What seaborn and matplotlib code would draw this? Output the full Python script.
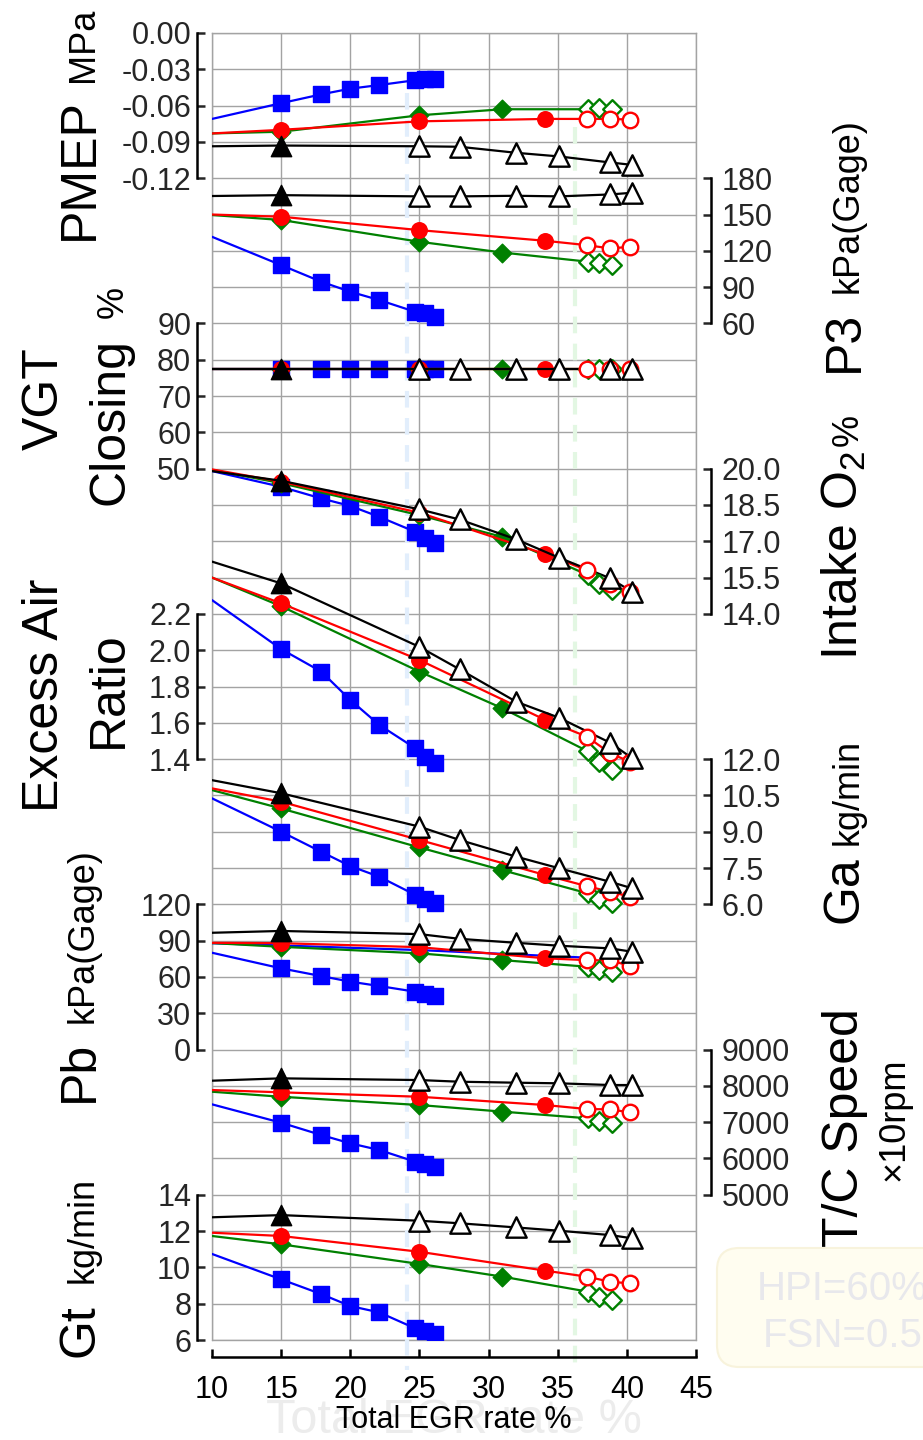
import matplotlib
matplotlib.use("Agg")
import matplotlib.pyplot as plt
import matplotlib.transforms as mtransforms
from matplotlib.patches import FancyBboxPatch
import seaborn as sns

sns.set_style("white")
plt.rcParams["font.family"] = ["Liberation Sans", "DejaVu Sans"]
plt.rcParams["mathtext.fontset"] = "custom"
plt.rcParams["mathtext.rm"] = "Liberation Sans"
plt.rcParams["mathtext.it"] = "Liberation Sans:italic"
plt.rcParams["mathtext.bf"] = "Liberation Sans:bold"
plt.rcParams["axes.unicode_minus"] = False

# ---------------------------------------------------------------- data
# Total EGR rate % of each operating series (first entry: line entry at frame edge)
egr_tri = [10, 15, 25, 27.9, 32, 35.1, 38.8, 40.4]
egr_circ = [10, 15, 25, 34.1, 37.1, 38.8, 40.2]
egr_dia = [10, 15, 25, 31, 37.2, 38.0, 38.9]
egr_sq = [10, 15, 17.9, 20, 22.1, 24.7, 25.4, 26.1]

# marker style per point: "" = no marker, "f" = filled, "o" = open
fill_tri = ["", "f", "o", "o", "o", "o", "o", "o"]
fill_circ = ["", "f", "f", "f", "o", "o", "o"]
fill_dia = ["", "f", "f", "f", "o", "o", "o"]
fill_sq = ["", "f", "f", "f", "f", "f", "f", "f"]

pmep_tri = [-0.0936, -0.093, -0.0936, -0.094, -0.099, -0.102, -0.107, -0.109]
pmep_circ = [-0.083, -0.080, -0.073, -0.071, -0.071, -0.071, -0.0715]
pmep_dia = [-0.083, -0.0816, -0.068, -0.063, -0.063, -0.062, -0.063]
pmep_sq = [-0.071, -0.058, -0.0507, -0.046, -0.043, -0.039, -0.038, -0.038]

p3_tri = [165.3, 166.0, 165.0, 165.0, 165.5, 165.0, 166.6, 168.0]
p3_circ = [150.0, 148.2, 137.1, 128.3, 124.7, 122.0, 123.3]
p3_dia = [149.6, 145.5, 127.5, 118.6, 111.0, 110.0, 108.7]
p3_sq = [131.6, 108.2, 94.5, 86.2, 79.3, 69.6, 68.4, 65.5]

vgt_tri = [77.5, 77.5, 77.5, 77.5, 77.5, 77.5, 77.5, 77.5]
vgt_circ = [77.5, 77.5, 77.5, 77.5, 77.5, 77.5, 77.5]
vgt_dia = [77.5, 77.5, 77.5, 77.5, 77.5, 77.5, 77.5]
vgt_sq = [77.5, 77.5, 77.5, 77.5, 77.5, 77.5, 77.5, 77.5]

o2_tri = [19.9, 19.5, 18.32, 17.9, 17.08, 16.32, 15.47, 14.9]
o2_circ = [19.97, 19.46, 18.18, 16.47, 15.81, 15.23, 14.89]
o2_dia = [19.95, 19.4, 18.08, 17.18, 15.6, 15.23, 14.99]
o2_sq = [19.9, 19.25, 18.77, 18.46, 18.01, 17.39, 17.12, 16.91]

ear_tri = [2.488, 2.368, 2.018, 1.895, 1.716, 1.628, 1.49, 1.404]
ear_circ = [2.40, 2.258, 1.946, 1.616, 1.524, 1.432, 1.386]
ear_dia = [2.40, 2.242, 1.882, 1.68, 1.442, 1.386, 1.34]
ear_sq = [2.276, 2.006, 1.882, 1.726, 1.588, 1.46, 1.414, 1.38]

ga_tri = [11.13, 10.59, 9.21, 8.66, 7.97, 7.49, 6.93, 6.66]
ga_circ = [10.79, 10.24, 8.66, 7.21, 6.75, 6.52, 6.32]
ga_dia = [10.72, 9.96, 8.35, 7.41, 6.45, 6.21, 6.06]
ga_sq = [10.38, 9.0, 8.17, 7.58, 7.14, 6.39, 6.24, 6.04]

pb_tri = [96.5, 98.0, 95.4, 91.5, 88.2, 85.8, 83.6, 80.8]
pb_circ = [88.2, 87.9, 84.6, 75.4, 73.9, 73.6, 69.3]
pb_dia = [88.0, 84.9, 79.5, 73.9, 68.4, 65.7, 64.3]
pb_sq = [80.0, 67.1, 60.7, 56.1, 52.5, 47.8, 45.9, 44.2]
pb_ref_egr = [10, 25, 36.6]
pb_ref = [87.9, 82.2, 76.2]

tc_tri = [8142, 8207, 8160, 8114, 8087, 8070, 8023, 8023]
tc_circ = [7885, 7822, 7700, 7472, 7362, 7353, 7270]
tc_dia = [7838, 7700, 7472, 7290, 7106, 7032, 6968]
tc_sq = [7491, 6985, 6646, 6417, 6233, 5911, 5847, 5774]

gt_tri = [12.76, 12.88, 12.57, 12.43, 12.2, 12.02, 11.78, 11.6]
gt_circ = [11.91, 11.73, 10.86, 9.82, 9.49, 9.21, 9.12]
gt_dia = [11.73, 11.27, 10.19, 9.49, 8.66, 8.38, 8.2]
gt_sq = [10.74, 9.34, 8.53, 7.87, 7.52, 6.64, 6.51, 6.33]

x_ticks = [10, 15, 20, 25, 30, 35, 40, 45]

# ---------------------------------------------------------------- styles
BLUE, RED, GREEN, BLACK = "#0000ff", "#ff0000", "#008000", "#000000"
GRID = "#a3a3a3"
N_ROWS = 36

series_style = {
    "sq": dict(x=egr_sq, fill=fill_sq, color=BLUE, marker="s", s=130, z=3),
    "dia": dict(x=egr_dia, fill=fill_dia, color=GREEN, marker="D", s=90, z=4),
    "circ": dict(x=egr_circ, fill=fill_circ, color=RED, marker="o", s=125, z=5),
    "tri": dict(x=egr_tri, fill=fill_tri, color=BLACK, marker="^", s=215, z=6),
}

# side, grid row of lowest tick, lowest tick value, step per row, tick format
panels = [
    ("left", 32, -0.12, 0.03, "{:.2f}",
     dict(sq=pmep_sq, dia=pmep_dia, circ=pmep_circ, tri=pmep_tri)),
    ("right", 28, 60, 30, "{:.0f}",
     dict(sq=p3_sq, dia=p3_dia, circ=p3_circ, tri=p3_tri)),
    ("left", 24, 50, 10, "{:.0f}",
     dict(sq=vgt_sq, dia=vgt_dia, circ=vgt_circ, tri=vgt_tri)),
    ("right", 20, 14.0, 1.5, "{:.1f}",
     dict(sq=o2_sq, dia=o2_dia, circ=o2_circ, tri=o2_tri)),
    ("left", 16, 1.4, 0.2, "{:.1f}",
     dict(sq=ear_sq, dia=ear_dia, circ=ear_circ, tri=ear_tri)),
    ("right", 12, 6.0, 1.5, "{:.1f}",
     dict(sq=ga_sq, dia=ga_dia, circ=ga_circ, tri=ga_tri)),
    ("left", 8, 0, 30, "{:.0f}",
     dict(sq=pb_sq, dia=pb_dia, circ=pb_circ, tri=pb_tri)),
    ("right", 4, 5000, 1000, "{:.0f}",
     dict(sq=tc_sq, dia=tc_dia, circ=tc_circ, tri=tc_tri)),
    ("left", 0, 6, 2, "{:.0f}",
     dict(sq=gt_sq, dia=gt_dia, circ=gt_circ, tri=gt_tri)),
]

# ---------------------------------------------------------------- figure
W, H = 923, 1440
L, R, T, B = 212, 696, 33, 1340
fig = plt.figure(figsize=(W / 100, H / 100), dpi=100)
rect = [L / W, 1 - B / H, (R - L) / W, (B - T) / H]

ax0 = fig.add_axes(rect)
ax0.set_xlim(10, 45)
ax0.set_ylim(0, N_ROWS)
ax0.set_xticks(x_ticks)
ax0.set_xticklabels([str(v) for v in x_ticks])
ax0.set_yticks(range(N_ROWS + 1))
ax0.set_yticklabels([])
ax0.tick_params(axis="y", length=0, left=False)
ax0.tick_params(axis="x", bottom=True, direction="in", length=5.8, width=1.8, pad=13,
                labelsize=22, colors="black")
ax0.grid(True, color=GRID, lw=1.0)
ax0.set_axisbelow(True)
for side in ("top", "left", "right"):
    ax0.spines[side].set_color(GRID)
    ax0.spines[side].set_linewidth(1.0)
ax0.spines["bottom"].set_position(("outward", 12))
ax0.spines["bottom"].set_color("black")
ax0.spines["bottom"].set_linewidth(1.8)
ax0.axhline(0, color=GRID, lw=1.0, clip_on=False, zorder=0.5)

# faint reference markers of the operating window
ax0.plot([24.1, 24.1], [34.35, -0.83], color="#e2eefc", lw=3, ls=(0, (4, 2.5)),
         clip_on=False, zorder=0.6)
ax0.plot([36.25, 36.25], [33.4, -0.83], color="#e3f7e3", lw=3, ls=(0, (4, 2.5)),
         clip_on=False, zorder=0.6)

pix = mtransforms.IdentityTransform()
box = FancyBboxPatch((717, H - 1367), 240, 119, boxstyle="round,pad=0,rounding_size=22",
                     transform=pix, facecolor="#fffdf0", edgecolor="#f8f3dc", lw=1.5,
                     zorder=0)
fig.add_artist(box)
fig.text(757 / W, 1 - 1300 / H, "HPI=60%", fontsize=29, color="#e8e8ec", zorder=1)
fig.text(763 / W, 1 - 1347 / H, "FSN=0.5", fontsize=29, color="#e8e8ec", zorder=1)
fig.text(266 / W, 1 - 1433 / H, "Total EGR rate %", fontsize=35, color="#ececec",
         zorder=0)


def draw_series(ax, key, values):
    st = series_style[key]
    sns.lineplot(x=st["x"], y=values, ax=ax, color=st["color"], lw=1.6,
                 sort=False, estimator=None, legend=False, zorder=st["z"])
    filled = [(x, y) for x, y, f in zip(st["x"], values, st["fill"]) if f == "f"]
    opened = [(x, y) for x, y, f in zip(st["x"], values, st["fill"]) if f == "o"]
    if filled:
        sns.scatterplot(x=[p[0] for p in filled], y=[p[1] for p in filled], ax=ax,
                        marker=st["marker"], s=st["s"], color=st["color"],
                        edgecolor=st["color"], linewidth=1.0, legend=False,
                        zorder=st["z"] + 0.5)
    if opened:
        sns.scatterplot(x=[p[0] for p in opened], y=[p[1] for p in opened], ax=ax,
                        marker=st["marker"], s=st["s"], color="white",
                        edgecolor=st["color"], linewidth=1.7, legend=False,
                        zorder=st["z"] + 6)


for idx, (side, row0, v0, step, fmt, data) in enumerate(panels):
    ax = fig.add_axes(rect, sharex=ax0, label=f"panel{idx}")
    ax.patch.set_alpha(0)
    ax.set_ylim(v0 - row0 * step, v0 + (N_ROWS - row0) * step)
    ticks = []
    for i in range(5):
        v = round(v0 + i * step, 6)
        ticks.append(0.0 if v == 0 else v)
    ax.set_yticks(ticks)
    ax.set_yticklabels([fmt.format(v) for v in ticks])
    for sp in ("top", "bottom", "left", "right"):
        ax.spines[sp].set_visible(False)
    sp = ax.spines[side]
    sp.set_visible(True)
    sp.set_color("black")
    sp.set_linewidth(1.8)
    sp.set_position(("outward", 11))
    sp.set_bounds(ticks[0], ticks[-1])
    if side == "right":
        ax.yaxis.tick_right()
        ax.tick_params(axis="y", right=True, left=False, direction="in", length=5.8,
                       width=1.8, pad=7.5, labelsize=22)
    else:
        ax.yaxis.tick_left()
        ax.tick_params(axis="y", left=True, right=False, direction="in", length=5.8,
                       width=1.8, pad=4, labelsize=22)
    ax.tick_params(axis="x", which="both", bottom=False, labelbottom=False)
    ax.set_xlabel("")
    ax.set_ylabel("")
    for key in ("sq", "dia", "circ", "tri"):
        draw_series(ax, key, data[key])
    if idx == 6:
        sns.lineplot(x=pb_ref_egr, y=pb_ref, ax=ax, color=BLUE, lw=1.6, sort=False,
                     estimator=None, legend=False, zorder=3)
    ax.set_xlim(10, 45)


def vlabel(x_px, y_px, s, size):
    fig.text(x_px / W, 1 - y_px / H, s, fontsize=size, rotation=90,
             rotation_mode="anchor", ha="left", va="baseline", color="black")


BIG, SMALL = 36, 26
vlabel(93, 240, "PMEP", BIG)
vlabel(93, 82, "MPa", SMALL)
vlabel(58, 450, "VGT", BIG)
vlabel(123, 505, "Closing", BIG)
vlabel(123, 318, "%", SMALL)
vlabel(58, 812, "Excess Air", BIG)
vlabel(122, 748, "Ratio", BIG)
vlabel(93, 1102, "Pb", BIG)
vlabel(93, 1023, "kPa(Gage)", SMALL)
vlabel(93, 1357, "Gt", BIG)
vlabel(93, 1283, "kg/min", SMALL)

vlabel(858, 372, "P3", BIG)
vlabel(858, 293, "kPa(Gage)", SMALL)
vlabel(858, 660, r"Intake O$_2$", BIG)
vlabel(858, 446, "%", SMALL)
vlabel(858, 923, "Ga", BIG)
vlabel(858, 845, "kg/min", SMALL)
vlabel(858, 1247, "T/C Speed", BIG)
vlabel(903, 1181, "\u00d710rpm", SMALL)

fig.text(454 / W, 1 - 1428 / H, "Total EGR rate %", fontsize=22, ha="center",
         va="baseline", color="black")

fig.savefig("out.png", dpi=100)
